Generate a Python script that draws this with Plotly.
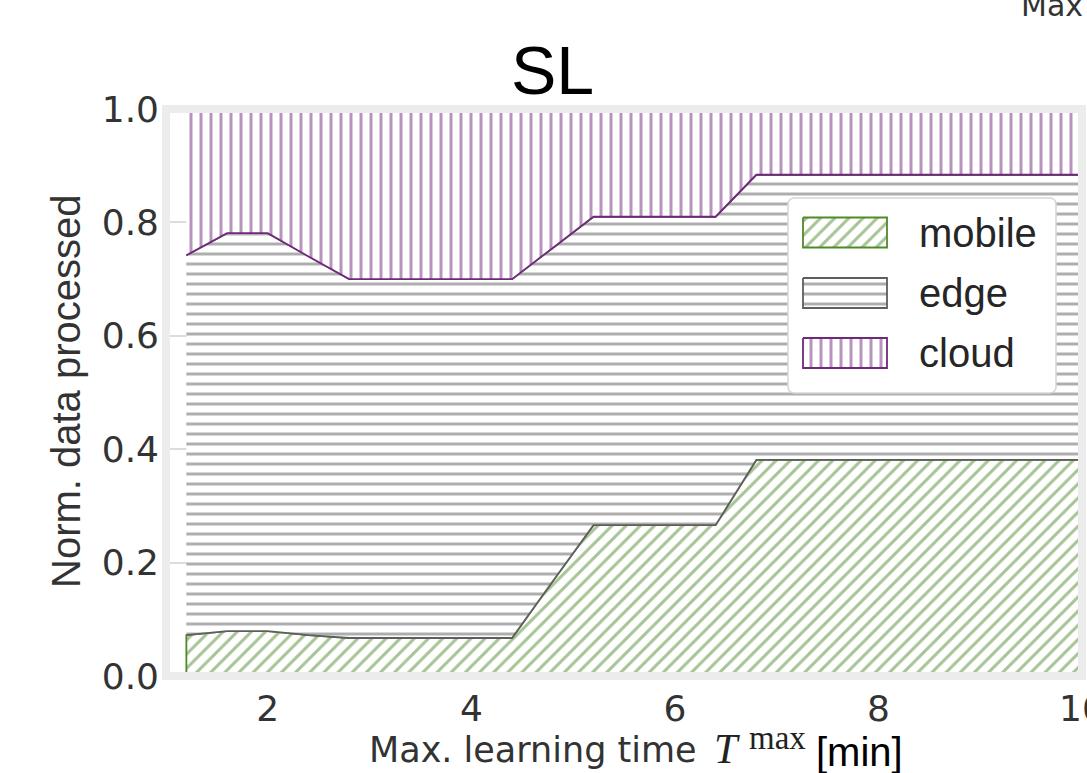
import numpy as np
import plotly.graph_objects as go

# ---------------- data ----------------
t_max = [1.2, 1.6, 2.0, 2.4, 2.8, 3.2, 3.6, 4.0, 4.4, 4.8, 5.2, 5.6,
         6.0, 6.4, 6.8, 7.2, 7.6, 8.0, 8.4, 8.8, 9.2, 9.6, 10.0]
mobile = [0.072, 0.079, 0.079, 0.072, 0.067, 0.067, 0.067, 0.067, 0.067, 0.167, 0.266, 0.266,
          0.266, 0.266, 0.381, 0.381, 0.381, 0.381, 0.381, 0.381, 0.381, 0.381, 0.381]
edge = [0.670, 0.702, 0.702, 0.668, 0.633, 0.633, 0.633, 0.633, 0.633, 0.588, 0.544, 0.544,
        0.544, 0.544, 0.503, 0.503, 0.503, 0.503, 0.503, 0.503, 0.503, 0.503, 0.503]
cloud = [0.258, 0.219, 0.219, 0.260, 0.300, 0.300, 0.300, 0.300, 0.300, 0.245, 0.190, 0.190,
         0.190, 0.190, 0.116, 0.116, 0.116, 0.116, 0.116, 0.116, 0.116, 0.116, 0.116]
series_names = ["mobile", "edge", "cloud"]
x_ticks = [2, 4, 6, 8, 10]
y_ticks = [0.0, 0.2, 0.4, 0.6, 0.8, 1.0]
y_tick_text = ["0.0", "0.2", "0.4", "0.6", "0.8", "1.0"]

# ---------------- styles ----------------
colors = {"mobile": "#4f8a2a", "edge": "#5e5e5e", "cloud": "#6e2a78"}
shapes_pat = {"mobile": "/", "edge": "-", "cloud": "|"}
solid = {"mobile": 0.3, "edge": 0.3, "cloud": 0.3}
PAT_SIZE = 10

W, H = 1087, 773
L, R, T, B = 166, 1082, 109, 676


def px(X):
    return (X - L) / (R - L)


def py(Y):
    return (B - Y) / (B - T)


xs = np.array(t_max)
top_m = np.array(mobile)
top_e = top_m + np.array(edge)
top_c = top_e + np.array(cloud)

fig = go.Figure()


def pattern(name):
    return dict(shape=shapes_pat[name], fgcolor=colors[name], bgcolor="white",
                size=PAT_SIZE, solidity=solid[name])


# mobile polygon
fig.add_trace(go.Scatter(
    x=np.concatenate([[xs[0]], xs, [xs[-1]]]),
    y=np.concatenate([[0], top_m, [0]]),
    fill="toself", fillpattern=pattern("mobile"), fillcolor="white",
    line=dict(color=colors["mobile"], width=1.8), mode="lines",
    name="mobile", showlegend=False, hoverinfo="skip"))
# edge polygon
fig.add_trace(go.Scatter(
    x=np.concatenate([xs, xs[::-1]]),
    y=np.concatenate([top_e, top_m[::-1]]),
    fill="toself", fillpattern=pattern("edge"), fillcolor="white",
    line=dict(color=colors["edge"], width=1.8), mode="lines",
    name="edge", showlegend=False, hoverinfo="skip"))
# cloud polygon
fig.add_trace(go.Scatter(
    x=np.concatenate([xs, xs[::-1]]),
    y=np.concatenate([top_c, top_e[::-1]]),
    fill="toself", fillpattern=pattern("cloud"), fillcolor="white",
    line=dict(color=colors["cloud"], width=1.8), mode="lines",
    name="cloud", showlegend=False, hoverinfo="skip"))

# ---------------- custom legend (pixel-space overlay axes) ----------------
box_x0, box_x1, box_y0, box_y1, rad = 788, 1056, 198, 393, 6
ang = np.linspace(0, np.pi / 2, 8)
bx, by = [], []
for cx, cy, a0 in [(box_x1 - rad, box_y0 + rad, 0), (box_x0 + rad, box_y0 + rad, np.pi / 2),
                   (box_x0 + rad, box_y1 - rad, np.pi), (box_x1 - rad, box_y1 - rad, 1.5 * np.pi)]:
    a = a0 + ang
    bx += list(cx + rad * np.cos(a))
    by += list(cy - rad * np.sin(a))
bx.append(bx[0]); by.append(by[0])
fig.add_trace(go.Scatter(x=bx, y=by, xaxis="x2", yaxis="y2", mode="lines", fill="toself",
                         fillcolor="white", line=dict(color="#d6d6d6", width=1.5),
                         showlegend=False, hoverinfo="skip"))
sw_x0, sw_x1, sw_h = 803, 887, 30
centers = [232.5, 293, 353]
for name, cy in zip(series_names, centers):
    fig.add_trace(go.Scatter(
        x=[sw_x0, sw_x1, sw_x1, sw_x0, sw_x0],
        y=[cy - sw_h / 2, cy - sw_h / 2, cy + sw_h / 2, cy + sw_h / 2, cy - sw_h / 2],
        xaxis="x2", yaxis="y2", mode="lines", fill="toself", fillcolor="white",
        fillpattern=pattern(name), line=dict(color=colors[name], width=1.8),
        showlegend=False, hoverinfo="skip"))

annotations = []
for name, cy in zip(series_names, centers):
    annotations.append(dict(x=px(917), y=py(cy), xref="paper", yref="paper", text=name,
                            showarrow=False, xanchor="left", yanchor="middle",
                            font=dict(family="Liberation Sans, Arial", size=40, color="#262626")))

# title
annotations.append(dict(x=px(552), y=py(70), xref="paper", yref="paper", text="SL",
                        showarrow=False, xanchor="center", yanchor="middle",
                        font=dict(family="Liberation Sans Narrow, Liberation Sans, Arial", size=68,
                                  color="black")))
# cut-off text at top right
annotations.append(dict(x=px(1019), y=py(18), xref="paper", yref="paper", text="Max",
                        showarrow=False, xanchor="left", yanchor="bottom", yshift=-7,
                        font=dict(family="DejaVu Sans", size=30, color="#333333")))
# y axis label
annotations.append(dict(x=px(66), y=py(391), xref="paper", yref="paper",
                        text="Norm. data processed", textangle=-90, showarrow=False,
                        xanchor="center", yanchor="middle",
                        font=dict(family="Liberation Sans, Arial", size=40, color="#333333")))
# x axis label pieces
annotations.append(dict(x=px(367), y=py(750), xref="paper", yref="paper",
                        text="Max. learning time", showarrow=False, xanchor="left", yanchor="middle",
                        font=dict(family="DejaVu Sans", size=35, color="#333333")))
annotations.append(dict(x=px(727), y=py(749), xref="paper", yref="paper",
                        text="<i>T</i>", showarrow=False, xanchor="center", yanchor="middle",
                        font=dict(family="Liberation Serif, DejaVu Serif", size=42, color="#222222")))
annotations.append(dict(x=px(747), y=py(738), xref="paper", yref="paper",
                        text="max", showarrow=False, xanchor="left", yanchor="middle",
                        font=dict(family="Liberation Serif, DejaVu Serif", size=33, color="#222222")))
annotations.append(dict(x=px(814), y=py(752), xref="paper", yref="paper",
                        text="[min]", showarrow=False, xanchor="left", yanchor="middle",
                        font=dict(family="Liberation Sans, Arial", size=40, color="black")))

fig.update_layout(
    width=W, height=H,
    margin=dict(l=L, r=W - R, t=T, b=H - B, pad=0, autoexpand=False),
    paper_bgcolor="white", plot_bgcolor="white",
    showlegend=False,
    xaxis=dict(range=[1, 10], tickvals=x_ticks, ticktext=[str(v) for v in x_ticks],
               showgrid=True, gridcolor="#dcdcdc", gridwidth=1.5, zeroline=False,
               showline=False, ticks="", ticklabelstandoff=8, automargin=False,
               ticklabeloverflow="allow",
               tickfont=dict(family="DejaVu Sans", size=36, color="#333333")),
    yaxis=dict(range=[0, 1], tickvals=y_ticks, ticktext=y_tick_text,
               showgrid=True, gridcolor="#dcdcdc", gridwidth=1.5, zeroline=False,
               showline=False, ticks="", ticklabelstandoff=6, automargin=False,
               ticklabeloverflow="allow",
               tickfont=dict(family="DejaVu Sans", size=36, color="#333333")),
    xaxis2=dict(range=[L, R], overlaying="x", visible=False, fixedrange=True),
    yaxis2=dict(range=[B, T], overlaying="y", visible=False, fixedrange=True),
    shapes=[dict(type="rect", xref="paper", yref="paper", x0=0, x1=1, y0=0, y1=1,
                 line=dict(color="#ececec", width=8), fillcolor="rgba(0,0,0,0)", layer="above")],
    annotations=annotations,
)

fig.write_html("out.html", config={"displayModeBar": False},
               post_script="document.body.style.margin='0px';document.body.style.overflow='hidden';")
